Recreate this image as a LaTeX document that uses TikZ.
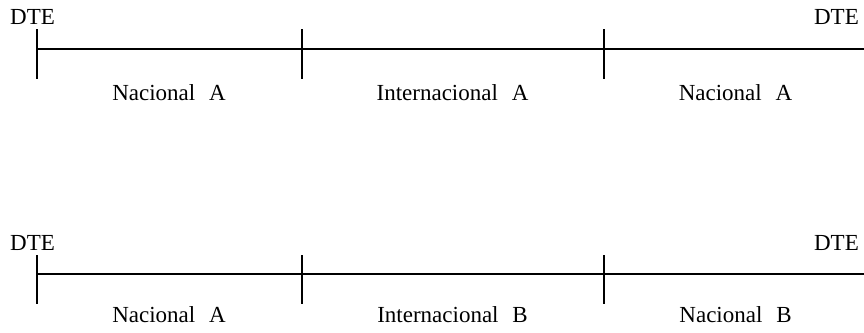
\documentclass[tikz,border=0pt]{standalone}
\usepackage{fontspec}
\setmainfont{Liberation Serif}
\begin{document}
\begin{tikzpicture}[x=1pt,y=-1pt,
  lbl/.style={inner sep=0pt,font=\fontsize{23}{27}\selectfont},
  wire/.style={line width=2pt}]
\useasboundingbox (0,0) rectangle (864,332);
% row 1
\node[lbl,anchor=base west] (d1l) at (10,24) {DTE};
\node[lbl,anchor=base east] (d1r) at (859,24) {DTE};
\coordinate (a1) at (37,49);
\coordinate (b1) at (302,49);
\coordinate (c1) at (604,49);
\coordinate (e1) at (864,49);
\coordinate (a1t) at (37,29); \coordinate (a1b) at (37,79);
\coordinate (b1t) at (302,29); \coordinate (b1b) at (302,79);
\coordinate (c1t) at (604,29); \coordinate (c1b) at (604,79);
\draw[wire] (a1) -- (e1);
\draw[wire] (a1t) -- (a1b);
\draw[wire] (b1t) -- (b1b);
\draw[wire] (c1t) -- (c1b);
\node[lbl,anchor=base] (n1a) at (169,100) {Nacional\hspace{0.6em}A};
\node[lbl,anchor=base] (i1) at (452.5,100) {Internacional\hspace{0.6em}A};
\node[lbl,anchor=base] (n1b) at (735.5,100) {Nacional\hspace{0.6em}A};
% row 2
\node[lbl,anchor=base west] (d2l) at (10,250) {DTE};
\node[lbl,anchor=base east] (d2r) at (859,250) {DTE};
\coordinate (a2) at (37,274);
\coordinate (b2) at (302,274);
\coordinate (c2) at (604,274);
\coordinate (e2) at (864,274);
\coordinate (a2t) at (37,255); \coordinate (a2b) at (37,304);
\coordinate (b2t) at (302,255); \coordinate (b2b) at (302,304);
\coordinate (c2t) at (604,255); \coordinate (c2b) at (604,304);
\draw[wire] (a2) -- (e2);
\draw[wire] (a2t) -- (a2b);
\draw[wire] (b2t) -- (b2b);
\draw[wire] (c2t) -- (c2b);
\node[lbl,anchor=base] (n2a) at (169,322.5) {Nacional\hspace{0.6em}A};
\node[lbl,anchor=base] (i2) at (452.5,322.5) {Internacional\hspace{0.6em}B};
\node[lbl,anchor=base] (n2b) at (735.5,322.5) {Nacional\hspace{0.6em}B};
\end{tikzpicture}
\end{document}
